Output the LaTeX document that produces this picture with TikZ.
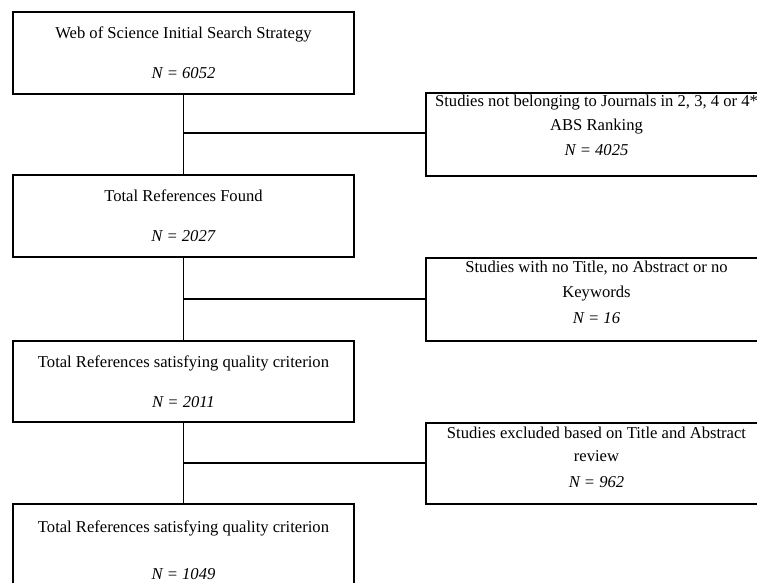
\documentclass[tikz,border=0pt]{standalone}
\usepackage{fontspec}
\setmainfont{Liberation Serif}
\usetikzlibrary{calc}
\begin{document}
\begin{tikzpicture}[x=1pt,y=-1pt,
  txt/.style={font=\fontsize{16.6}{19.9}\selectfont, align=center},
  stagebox/.style={draw, line width=1.4pt, minimum width=341pt, inner sep=0pt, txt},
  exclbox/.style={draw, line width=1.4pt, minimum width=341pt, inner sep=0pt},
  exclnote/.style={inner sep=0pt, anchor=north, txt},
  link/.style={line width=1.4pt}]
\useasboundingbox (0,0) rectangle (757,583);
\clip (0,0) rectangle (757,583);

% main screening stages
\node[stagebox, minimum height=82pt] (s1) at (183.5,53)
  {Web of Science Initial Search Strategy\\[20pt]\textit{N = 6052}};
\node[stagebox, minimum height=82pt] (s2) at (183.5,216)
  {Total References Found\\[20pt]\textit{N = 2027}};
\node[stagebox, minimum height=81pt] (s3) at (183.5,381.5)
  {Total References satisfying quality criterion\\[20pt]\textit{N = 2011}};
\node[stagebox, minimum height=92pt] (s4) at (183.5,550)
  {Total References satisfying quality criterion\\[27pt]\textit{N = 1049}};

% excluded records
\node[exclbox, minimum height=83pt] (r1) at (596.5,134.5) {};
\node[exclnote] (r1t) at ($(r1.north)+(0,2.5)$)
  {Studies not belonging to Journals in 2, 3, 4 or 4*\\[4pt]ABS Ranking\\[5pt]\textit{N = 4025}};
\node[exclbox, minimum height=83pt] (r2) at (596.5,299.5) {};
\node[exclnote] (r2t) at ($(r2.north)+(0,3)$)
  {Studies with no Title, no Abstract or no\\[6pt]Keywords\\[6pt]\textit{N = 16}};
\node[exclbox, minimum height=81pt] (r3) at (596.5,463.5) {};
\node[exclnote] (r3t) at ($(r3.north)+(0,4)$)
  {Studies excluded based on Title and Abstract\\[4pt]review\\[6pt]\textit{N = 962}};

% trunk between stages
\draw[link] (s1.south) -- (s2.north);
\draw[link] (s2.south) -- (s3.north);
\draw[link] (s3.south) -- (s4.north);

% branches to the excluded records
\coordinate (j1) at (183.5,133);
\coordinate (j2) at (183.5,299);
\coordinate (j3) at (183.5,463);
\draw[link] (j1) -- (j1 -| r1.west);
\draw[link] (j2) -- (j2 -| r2.west);
\draw[link] (j3) -- (j3 -| r3.west);
\end{tikzpicture}
\end{document}
